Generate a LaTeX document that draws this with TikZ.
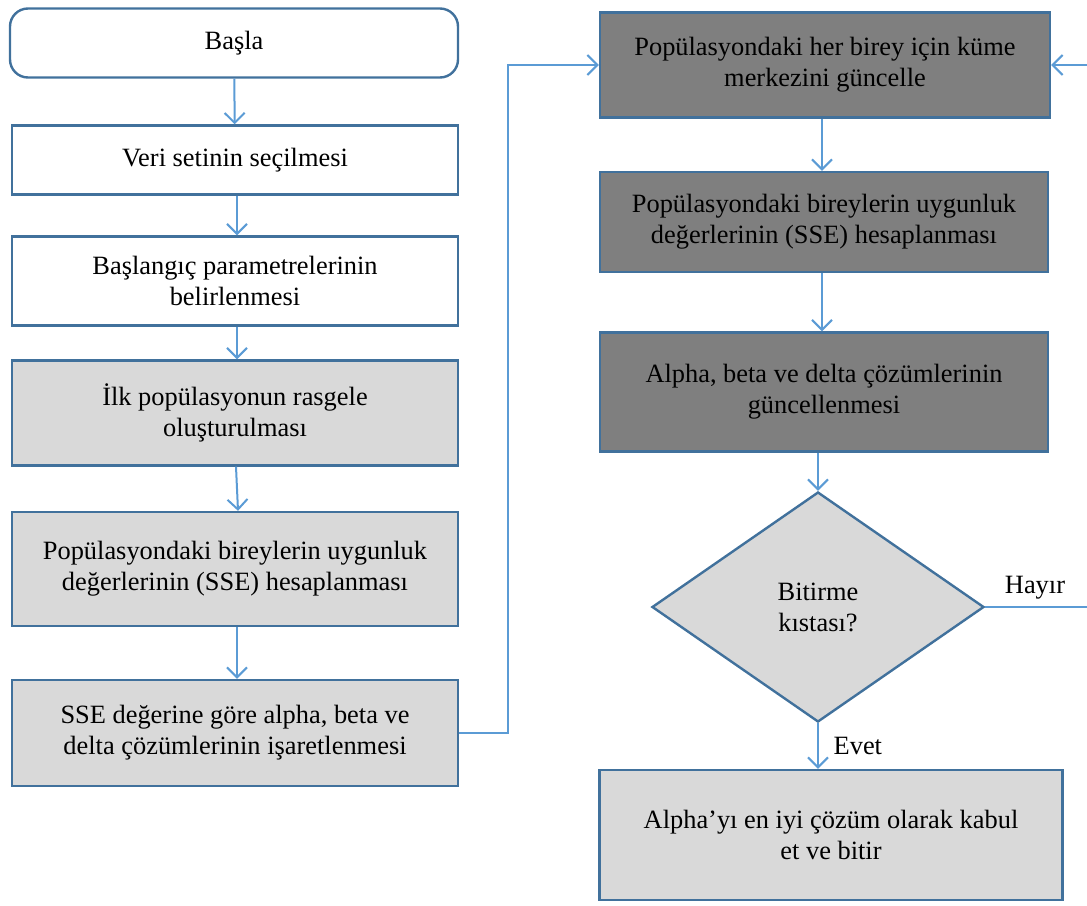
\documentclass[tikz,border=0pt]{standalone}
\usepackage{fontspec}
\setmainfont{Liberation Serif}
\definecolor{boxBorder}{HTML}{41719C}
\definecolor{arrowBlue}{HTML}{5B9BD5}
\definecolor{fillLight}{HTML}{D9D9D9}
\definecolor{fillDark}{HTML}{7F7F7F}
\usetikzlibrary{arrows.meta, positioning, shapes.geometric}

\begin{document}
\begin{tikzpicture}[
    x=0.5pt, y=-0.5pt,
    box/.style={rectangle, draw=boxBorder, line width=1.2pt, align=center, inner sep=0pt, font=\fontsize{13.2}{15.5}\selectfont, minimum width=223pt},
    light/.style={box, fill=fillLight},
    dark/.style={box, fill=fillDark},
    decision/.style={diamond, draw=boxBorder, line width=1.2pt, fill=fillLight, align=center, inner sep=0pt, font=\fontsize{13.2}{15.5}\selectfont, minimum width=166pt, minimum height=115pt},
    lbl/.style={font=\fontsize{13.2}{15.5}\selectfont, text=black},
    arr/.style={-{Straight Barb[length=5pt, width=10pt]}, line width=1pt, arrowBlue}
]
\useasboundingbox (0,0) rectangle (1087,905);
\clip (0,0) rectangle (1087,905);

% Left column
\node[box, rounded corners=9pt, minimum width=224pt, minimum height=34.5pt] (start) at (234,43) {Başla};
\node[box, minimum height=34.5pt] (data) at (235,160) {Veri setinin seçilmesi};
\node[box, minimum height=44.5pt] (params) at (235,281) {Başlangıç parametrelerinin\\belirlenmesi};
\node[light, minimum height=52.5pt] (init) at (235,413) {İlk popülasyonun rasgele\\oluşturulması};
\node[light, minimum height=57pt] (fit) at (235,569) {Popülasyondaki bireylerin uygunluk\\değerlerinin (SSE) hesaplanması};
\node[light, minimum height=53pt] (mark) at (235,733) {SSE değerine göre alpha, beta ve\\delta çözümlerinin işaretlenmesi};

% Right column
\node[dark, minimum width=225pt, minimum height=52.5pt] (update) at (825,65) {Popülasyondaki her birey için küme\\merkezini güncelle};
\node[dark, minimum width=224pt, minimum height=50pt] (refit) at (824,222) {Popülasyondaki bireylerin uygunluk\\değerlerinin (SSE) hesaplanması};
\node[dark, minimum width=224pt, minimum height=59.5pt] (leaders) at (824,392) {Alpha, beta ve delta çözümlerinin\\güncellenmesi};
\node[decision] (stop) at (818,607) {Bitirme\\kıstası?};
\node[light, minimum width=231.5pt, minimum height=65pt] (finish) at (831,835) {Alpha’yı en iyi çözüm olarak kabul\\et ve bitir};

% Loop back (runs off the right edge)
\coordinate (loop) at (1110,0);

% Arrows
\draw[arr] (start) -- (data);
\draw[arr] (data.south -| 237,0) -- (params.north -| 237,0);
\draw[arr] (params.south -| 237,0) -- (init.north -| 237,0);
\draw[arr] (init.south -| 236,0) -- (fit.north -| 238,0);
\draw[arr] (fit.south -| 237,0) -- (mark.north -| 237,0);
\draw[arr] (mark.east) -- ++(49,0) |- (update.west);
\draw[arr] (update.south -| 822,0) -- (refit.north -| 822,0);
\draw[arr] (refit.south -| 822,0) -- (leaders.north -| 822,0);
\draw[arr] (leaders.south -| 818,0) -- (stop.north);
\draw[arr] (stop.south) -- (finish.north -| stop.south) node[lbl, midway, right=4pt] {Evet};
\draw[arr] (stop.east) -| (loop |- update.east) -- (update.east);
\node[lbl] (no) at (1035,588) {Hayır};

\end{tikzpicture}
\end{document}
